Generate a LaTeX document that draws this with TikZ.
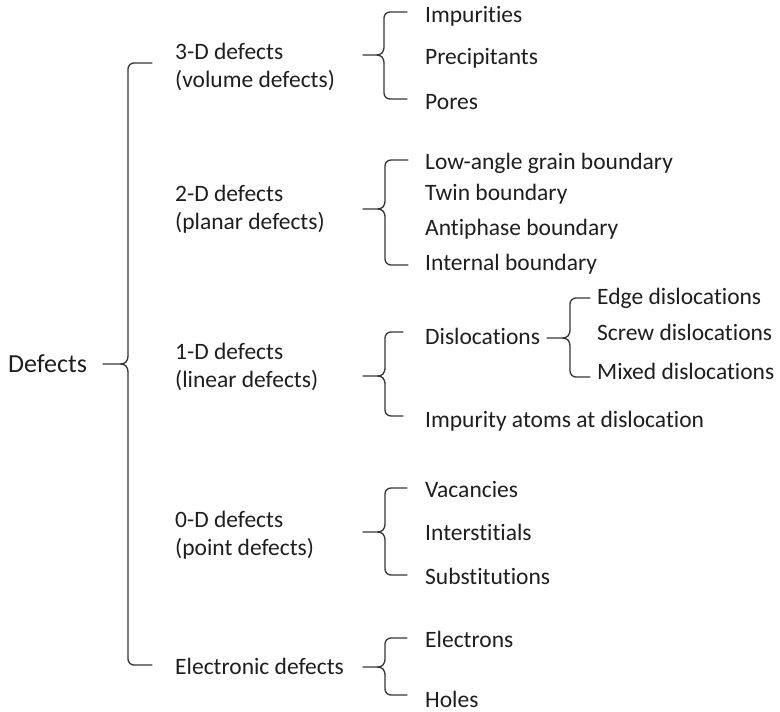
\documentclass[tikz,border=0pt]{standalone}
\usepackage{fontspec}
\setmainfont{Carlito}[Ligatures={NoCommon}]
\usetikzlibrary{calc}
\definecolor{ink}{HTML}{1E1E1E}
\tikzset{
  lbl/.style={anchor=base west,inner sep=0pt,text=ink,font=\fontsize{23.5}{28}\selectfont,align=left},
  root/.style={anchor=base west,inner sep=0pt,text=ink,font=\fontsize{26}{30}\selectfont},
  br/.style={draw=ink!90,line width=1.3pt,line join=round,line cap=round}
}
\newcommand\mybrace[4]{%
  \draw[br] let \p1=(#1),\p2=(#2),\p3=(#3),\n1={\x1+#4} in
    (\p2) -- (\n1+6pt,\y2) arc[start angle=90,end angle=180,radius=6pt]
    -- (\n1,\y1+9pt) .. controls (\n1,\y1+2pt) and (\n1-3pt,\y1) .. (\n1-8pt,\y1)
    -- (\p1) -- (\n1-8pt,\y1) .. controls (\n1-3pt,\y1) and (\n1,\y1-2pt) .. (\n1,\y1-9pt)
    -- (\n1,\y3+6pt) arc[start angle=180,end angle=270,radius=6pt] -- (\p3);
}
\begin{document}
\begin{tikzpicture}[x=1pt,y=-1pt]
\useasboundingbox (0,0) rectangle (780,712);
% root
\node[root] (def) at (8,372) {Defects};
% level 1 (base anchor = last line)
\node[lbl] (d3) at (175,87.5) {3-D defects\\(volume defects)};
\node[lbl] (d2) at (175,229.5) {2-D defects\\(planar defects)};
\node[lbl] (d1) at (175,387.5) {1-D defects\\(linear defects)};
\node[lbl] (d0) at (175,555.5) {0-D defects\\(point defects)};
\node[lbl] (de) at (175,674.5) {Electronic defects};
% 3-D items
\node[lbl] (imp) at (425,22.5) {Impurities};
\node[lbl] (pre) at (425,64.5) {Precipitants};
\node[lbl] (por) at (425,109.5) {Pores};
% 2-D items
\node[lbl] (low) at (425,169.5) {Low-angle grain boundary};
\node[lbl] (twi) at (425,200.5) {Twin boundary};
\node[lbl] (ant) at (425,235.5) {Antiphase boundary};
\node[lbl] (int) at (425,270.5) {Internal boundary};
% 1-D items
\node[lbl] (dis) at (425,344.5) {Dislocations};
\node[lbl] (ida) at (425,427.5) {Impurity atoms at dislocation};
\node[lbl] (edg) at (597,304.5) {Edge dislocations};
\node[lbl] (scr) at (597,340.5) {Screw dislocations};
\node[lbl] (mix) at (597,379.5) {Mixed dislocations};
% 0-D items
\node[lbl] (vac) at (425,497.5) {Vacancies};
\node[lbl] (ist) at (425,540.5) {Interstitials};
\node[lbl] (sub) at (425,584.5) {Substitutions};
% electronic items
\node[lbl] (ele) at (425,647.5) {Electrons};
\node[lbl] (hol) at (425,707.5) {Holes};
% brace coordinates
\coordinate (tm) at (103,364); \coordinate (tmA) at (152,63);  \coordinate (tmB) at (152,665);
\coordinate (t3) at (363,55);  \coordinate (t3A) at (407,12);  \coordinate (t3B) at (407,99);
\coordinate (t2) at (363,209); \coordinate (t2A) at (408,160); \coordinate (t2B) at (408,265);
\coordinate (t1) at (363,376); \coordinate (t1A) at (403,332); \coordinate (t1B) at (403,416);
\coordinate (tx) at (547,338); \coordinate (txA) at (590,298); \coordinate (txB) at (590,377);
\coordinate (t0) at (363,532); \coordinate (t0A) at (407,488); \coordinate (t0B) at (407,575);
\coordinate (te) at (363,667); \coordinate (teA) at (407,638); \coordinate (teB) at (407,695);
\mybrace{tm}{tmA}{tmB}{25pt}
\mybrace{t3}{t3A}{t3B}{21pt}
\mybrace{t2}{t2A}{t2B}{22pt}
\mybrace{t1}{t1A}{t1B}{22pt}
\mybrace{tx}{txA}{txB}{23pt}
\mybrace{t0}{t0A}{t0B}{22pt}
\mybrace{te}{teA}{teB}{22pt}
\end{tikzpicture}
\end{document}
